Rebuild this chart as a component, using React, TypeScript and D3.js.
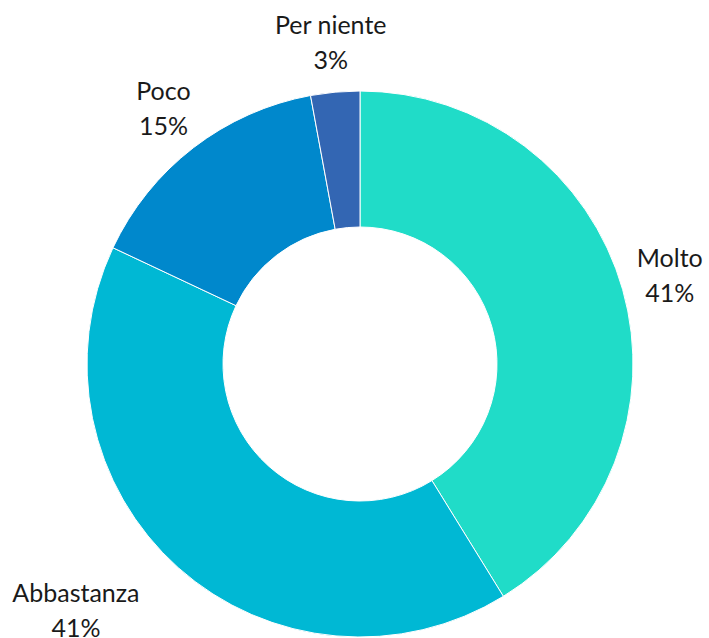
import React, { useRef, useEffect } from 'react';
import * as d3 from 'd3';

const categories = ['Molto', 'Abbastanza', 'Poco', 'Per niente'];
const values = [41.2, 40.8, 15.1, 2.9];
const percentLabels = ['41%', '41%', '15%', '3%'];
const colors = ['#20DCC8', '#00B8D4', '#0088CC', '#3366B3'];

const W = 709;
const H = 638;

export default function App() {
  const svgRef = useRef<SVGSVGElement>(null);

  useEffect(() => {
    if (!svgRef.current) return;
    const svg = d3.select(svgRef.current);
    svg.selectAll('*').remove();

    const cx = 360;
    const cy = 364;
    const outerR = 273;
    const innerR = 137;
    const labelR = 322;

    const data = categories.map((c, i) => ({ name: c, value: values[i], label: percentLabels[i], color: colors[i] }));

    const pie = d3.pie<any>().sort(null).value((d) => d.value);
    const arc = d3.arc<any>().innerRadius(innerR).outerRadius(outerR);
    const arcs = pie(data);

    const g = svg.append('g').attr('transform', `translate(${cx},${cy})`);

    g.selectAll('path')
      .data(arcs)
      .enter()
      .append('path')
      .attr('d', arc)
      .attr('fill', (d) => d.data.color)
      .attr('stroke', '#ffffff')
      .attr('stroke-width', 1);

    // Outside labels, centred lines; labels low on the sides are pushed outward
    arcs.forEach((a) => {
      const mid = (a.startAngle + a.endAngle) / 2;
      const lowSide = -Math.cos(mid) > 0.6;
      const r = lowSide ? labelR + 9 : labelR;
      let x = Math.sin(mid) * r;
      const y = -Math.cos(mid) * r;
      const t = g.append('text')
        .attr('y', y)
        .attr('text-anchor', 'middle')
        .attr('font-family', 'Lato, sans-serif')
        .attr('font-size', 25)
        .attr('fill', '#1a1a1a');
      const l1 = t.append('tspan').attr('dy', -9).text(a.data.name);
      const l2 = t.append('tspan').attr('dy', 35).text(a.data.label);
      if (lowSide) {
        const w = Math.max((l1.node() as any).getComputedTextLength(), (l2.node() as any).getComputedTextLength());
        x = x < 0 ? x - w / 2 : x + w / 2;
      }
      l1.attr('x', x);
      l2.attr('x', x);
    });
  }, []);

  return (
    <div style={{ position: 'absolute', top: 0, left: 0 }}>
      <svg ref={svgRef} width={W} height={H} style={{ display: 'block', background: '#fff' }} />
    </div>
  );
}
